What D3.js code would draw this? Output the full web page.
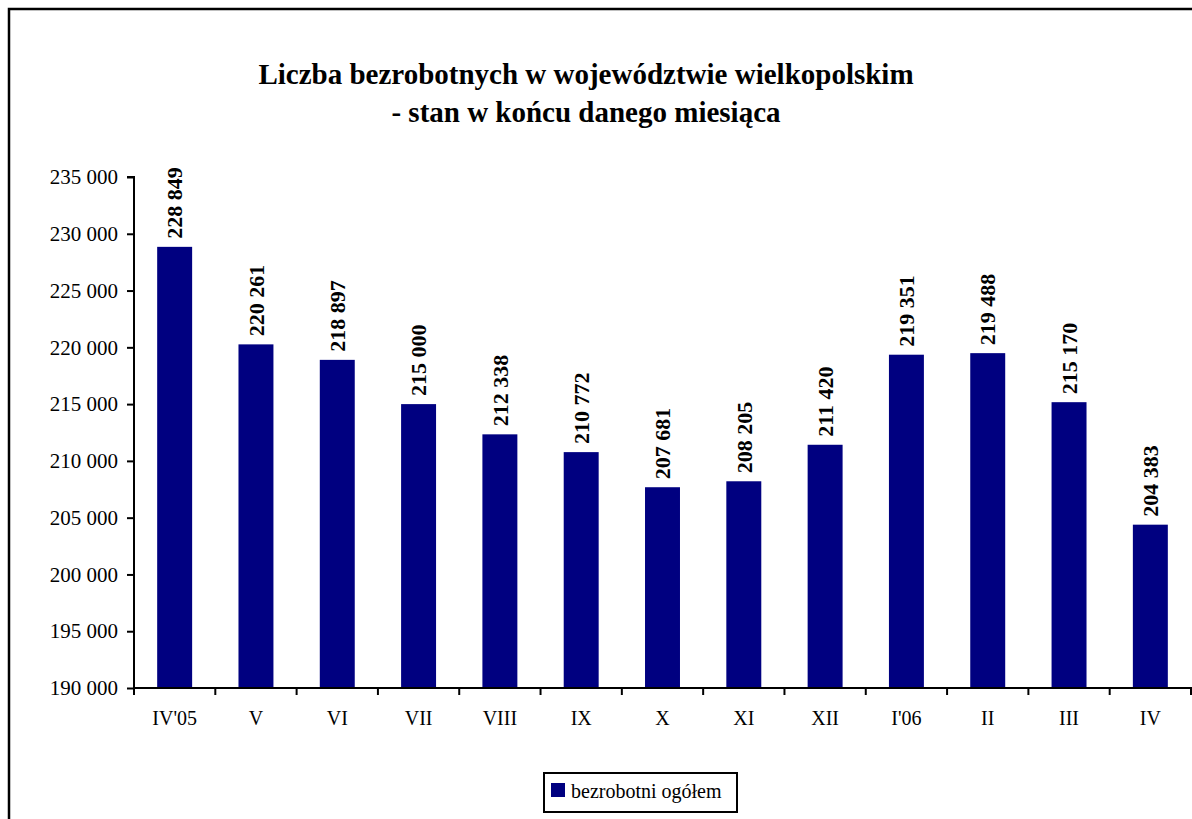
<!DOCTYPE html>
<html><head><meta charset="utf-8">
<script src="https://cdn.jsdelivr.net/npm/d3@7"></script>
<style>
html,body{margin:0;padding:0;background:#fff;}
svg{display:block;}
text{font-family:"Liberation Serif","Times New Roman",serif;fill:#000;}
</style></head>
<body>
<svg id="chart" width="1192" height="819"></svg>
<script>
const categories = ["IV'05","V","VI","VII","VIII","IX","X","XI","XII","I'06","II","III","IV"];
const values = [228849,220261,218897,215000,212338,210772,207681,208205,211420,219351,219488,215170,204383];
const yTicks = [190000,195000,200000,205000,210000,215000,220000,225000,230000,235000];
const titleLines = ["Liczba bezrobotnych w województwie wielkopolskim","- stan w końcu danego miesiąca"];
const seriesName = "bezrobotni ogółem";

const svg = d3.select("#chart");
const W = 1192, H = 819;
const locale = d3.formatLocale({decimal:",", thousands:" ", grouping:[3], currency:["",""]});
const fmt = locale.format(",");

// outer frame
svg.append("rect").attr("x",9).attr("y",9).attr("width",W+20).attr("height",H+20)
  .attr("fill","#fff").attr("stroke","#000").attr("stroke-width",2.5);

// title
svg.append("g").selectAll("text").data(titleLines).join("text")
  .attr("x",586).attr("y",(d,i)=>84+i*38)
  .attr("text-anchor","middle").attr("font-weight","bold").attr("font-size",29)
  .text(d=>d);

const x = d3.scaleBand().domain(categories).range([134,1191]).paddingInner(0.57).paddingOuter(0.285);
const y = d3.scaleLinear().domain([190000,235000]).range([688,177]);

// bars
svg.append("g").selectAll("rect").data(values).join("rect")
  .attr("x",(d,i)=>x(categories[i])).attr("width",x.bandwidth())
  .attr("y",d=>y(d)).attr("height",d=>y(190000)-y(d))
  .attr("fill","#000080");

// value labels
svg.append("g").selectAll("text").data(values).join("text")
  .attr("transform",(d,i)=>`translate(${x(categories[i])+x.bandwidth()/2},${y(d)-8}) rotate(-90)`)
  .attr("dy","0.35em").attr("text-anchor","start")
  .attr("font-weight","bold").attr("font-size",22)
  .text(d=>fmt(d));

// y axis
const yAxis = d3.axisLeft(y).tickValues(yTicks).tickFormat(fmt).tickSize(7).tickPadding(9);
const gy = svg.append("g").attr("transform","translate(134,0)").call(yAxis);
gy.select(".domain").attr("stroke","#000").attr("stroke-width",2).attr("d","M-7,177H0V689");
gy.selectAll(".tick line").attr("stroke","#000").attr("stroke-width",2);
gy.selectAll(".tick text").attr("font-size",21).style("font-family","'Liberation Serif',serif").attr("fill","#000");

// x axis
const step = x.step();
const boundaries = d3.range(categories.length+1).map(i=>x.range()[0]+i*step);
const gx = svg.append("g");
gx.append("line").attr("x1",133).attr("x2",1192).attr("y1",688).attr("y2",688).attr("stroke","#000").attr("stroke-width",2);
gx.selectAll("line.t").data(boundaries).join("line").attr("class","t")
  .attr("x1",d=>d).attr("x2",d=>d).attr("y1",688).attr("y2",695).attr("stroke","#000").attr("stroke-width",2);
gx.selectAll("text").data(categories).join("text")
  .attr("x",d=>x(d)+x.bandwidth()/2).attr("y",725)
  .attr("text-anchor","middle").attr("font-size",20).text(d=>d);

// legend
const lg = svg.append("g");
lg.append("rect").attr("x",544).attr("y",773).attr("width",193).attr("height",39)
  .attr("fill","#fff").attr("stroke","#000").attr("stroke-width",2);
lg.append("rect").attr("x",551).attr("y",783).attr("width",14).attr("height",14).attr("fill","#000080");
lg.append("text").attr("x",571).attr("y",798).attr("font-size",20).text(seriesName);
</script>
</body></html>
